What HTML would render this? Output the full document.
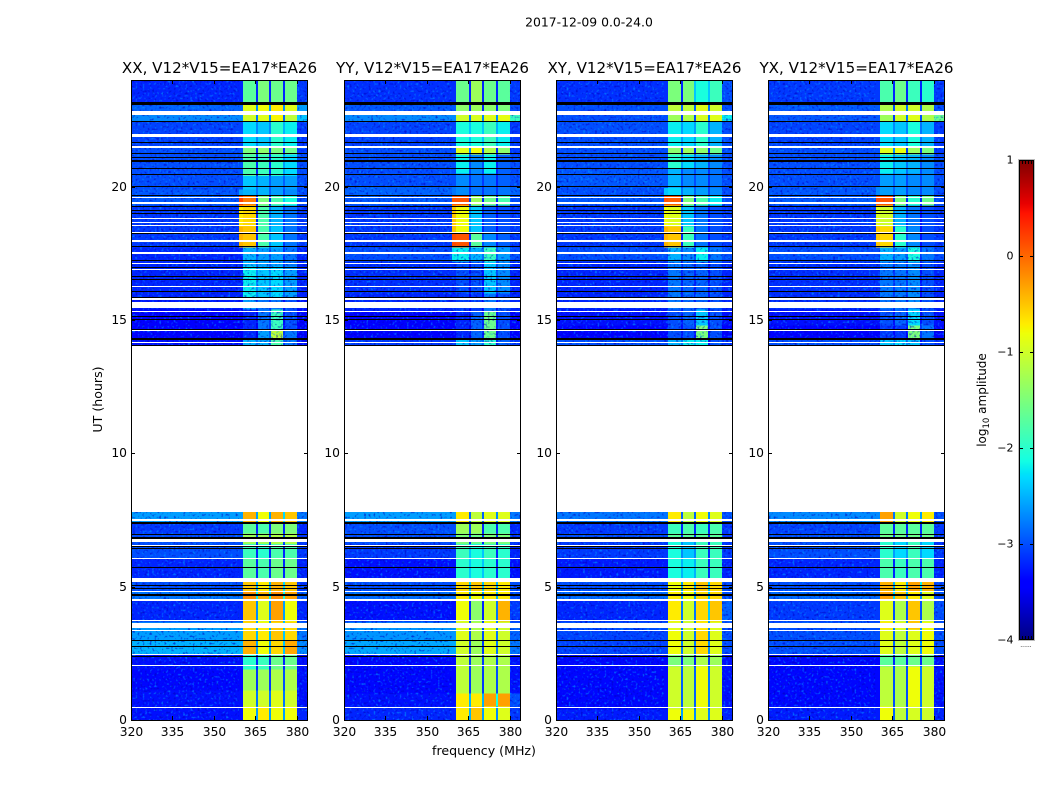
<!DOCTYPE html>
<html lang="en">
<head>
<meta charset="utf-8">
<title>2017-12-09 0.0-24.0</title>
<style>
html,body{margin:0;padding:0;background:#fff;width:1050px;height:800px;overflow:hidden}
svg{display:block}
text{font-family:"DejaVu Sans","Liberation Sans",sans-serif;fill:#000}
</style>
</head>
<body>
<svg id="figure" width="1050" height="800" viewBox="0 0 1050 800" xmlns="http://www.w3.org/2000/svg">
<defs>
<filter id="grainLight" x="0" y="0" width="100%" height="100%" color-interpolation-filters="sRGB">
<feTurbulence type="fractalNoise" baseFrequency="0.42" numOctaves="1" seed="4"/>
<feColorMatrix type="matrix" values="0 0 0 0 0  0 0 0 0 0.6  0 0 0 0 1  5 0 0 0 -2.8"/>
</filter>
<filter id="grainDark" x="0" y="0" width="100%" height="100%" color-interpolation-filters="sRGB">
<feTurbulence type="fractalNoise" baseFrequency="0.42" numOctaves="1" seed="11"/>
<feColorMatrix type="matrix" values="0 0 0 0 0  0 0 0 0 0  0 0 0 0 0.75  5 0 0 0 -2.8"/>
</filter>
</defs>
<text x="589" y="26.5" text-anchor="middle" font-size="12.4">2017-12-09 0.0-24.0</text>
<text x="484" y="755" text-anchor="middle" font-size="12.6">frequency (MHz)</text>
<text transform="translate(102,399.5) rotate(-90)" text-anchor="middle" font-size="12.6">UT (hours)</text>
<text transform="translate(986,400) rotate(-90)" text-anchor="middle" font-size="12">log<tspan font-size="8.5" dy="3">10</tspan><tspan dy="-3"> amplitude</tspan></text>
<g id="panels"></g>
<g id="colorbar"></g>
</svg>
<script>
// ---- chart data (log10 amplitude) ----
var panelTitles = ['XX, V12*V15=EA17*EA26','YY, V12*V15=EA17*EA26','XY, V12*V15=EA17*EA26','YX, V12*V15=EA17*EA26'];
var xTickValues = [320,335,350,365,380];
var yTickValues = [0,5,10,15,20];
var colorbarTicks = [1,0,-1,-2,-3,-4];
// channel edges in MHz: background, early band, sb1, gap, sb2, gap, sb3, gap, sb4, upper edge
var freqEdges = [320,359,360.5,365.2,366,369.9,370.6,375,375.7,380,384];
// each row: [top hour, background, early band, sb1, sb2, sb3, sb4, upper edge]
var xxRows = [
[24,-3.2,null,-1.7,-1.5,-1.6,-1.6,-3.1],[23.18,-2.9,null,-0.9,-0.8,-0.7,-0.9,-2.6],[22.7,-2.7,null,-1.0,-0.9,-0.75,-1.1,-2.4],
[22.46,-3.05,null,-2.3,-2.4,-2.0,-2.2,-3.1],[21.5,-3.0,null,-1.5,-1.4,-1.5,-1.6,-3.1],[21.2,-3.0,null,-1.8,-1.9,-2.0,-2.3,-3.0],
[20.4,-3.0,null,-2.4,-2.5,-2.6,-2.6,-3.0],[19.9,-2.95,-2.6,-2.5,-2.5,-2.6,-2.7,-3.0],[19.65,-2.95,0.2,-0.1,-1.5,-1.8,-2.1,-3.0],
[19.3,-3.1,-0.7,-0.6,-1.8,-2.5,-2.8,-3.1],[18.5,-3.1,-0.4,-0.5,-1.8,-2.4,-2.8,-3.1],[17.72,-3.2,null,-2.5,-2.6,-2.6,-2.8,-3.2],
[17.0,-3.2,null,-2.2,-2.4,-2.3,-2.6,-3.2],[15.8,-3.25,null,-2.6,-2.8,-2.8,-3.0,-3.3],[15.4,-3.4,null,-3.2,-2.8,-1.9,-3.0,-3.4],
[14.6,-3.4,null,-3.2,-2.6,-1.1,-2.8,-3.4],[14.3,-3.3,null,-2.5,-2.5,-1.8,-2.8,-3.3],
[7.8,-2.6,null,-0.4,-0.8,-0.4,-0.5,-2.8],[7.4,-3.1,null,-1.7,-1.8,-1.5,-1.5,-3.2],[7.0,-3.0,null,-1.3,-1.3,-1.2,-1.2,-3.1],
[6.6,-3.0,null,-1.9,-2.0,-1.8,-1.8,-3.1],[6.07,-3.2,null,-1.7,-1.8,-1.6,-1.6,-3.2],[5.2,-3.0,null,-0.5,-0.7,-0.4,-0.5,-3.1],
[4.8,-2.8,null,-0.2,-0.4,-0.2,-0.3,-2.9],[4.5,-3.2,null,-0.5,-0.9,-0.3,-0.8,-3.2],[3.7,-2.75,null,-0.6,-0.8,-0.6,-0.6,-2.9],
[3.45,-2.6,null,-0.6,-0.7,-0.5,-0.6,-2.8],[3.0,-2.5,null,-0.4,-0.8,-0.6,-0.35,-2.7],[2.45,-3.3,null,-2.0,-1.9,-1.6,-1.6,-3.3],
[1.9,-3.35,null,-1.3,-1.3,-1.2,-1.2,-3.3],[1.1,-3.3,null,-1.0,-1.0,-0.9,-1.0,-3.3],[0.5,-3.3,null,-0.8,-0.7,-0.8,-0.8,-3.2]
];
var yyRows = [
[24,-3.15,null,-1.6,-1.3,-1.6,-1.7,-3.1],[23.18,-2.95,null,-1.4,-1.3,-1.4,-1.5,-3.0],[22.7,-2.7,null,-1.0,-0.95,-0.9,-0.85,-1.9],
[22.46,-3.05,null,-2.1,-2.1,-1.9,-2.2,-3.1],[21.5,-3.0,null,-0.9,-0.8,-1.2,-1.4,-3.1],[21.2,-3.0,null,-2.2,-2.7,-2.2,-2.9,-3.0],
[20.5,-3.0,null,-2.7,-2.8,-2.8,-2.9,-3.0],[20.0,-2.9,-2.8,-2.7,-2.8,-2.8,-2.8,-2.9],[19.65,-2.95,0.1,0.1,-1.3,-1.6,-1.8,-3.0],
[19.3,-3.1,-0.5,-0.8,-2.4,-2.9,-3.0,-3.1],[18.3,-3.1,0.15,0.1,-1.7,-2.7,-2.9,-3.1],[17.72,-3.0,-2.2,-2.2,-2.5,-1.9,-2.6,-3.0],
[17.2,-3.15,null,-3.0,-3.0,-2.4,-2.7,-3.2],[16.0,-3.2,null,-3.1,-3.1,-2.8,-3.0,-3.2],[15.3,-3.4,null,-3.2,-2.9,-1.6,-3.0,-3.4],
[14.3,-3.1,null,-2.4,-2.6,-2.0,-2.9,-3.1],
[7.8,-2.6,null,-0.7,-1.1,-0.9,-0.9,-2.8],[7.4,-3.0,null,-1.3,-1.3,-1.8,-1.8,-3.2],[7.0,-3.0,null,-1.5,-1.6,-1.5,-1.5,-3.1],
[6.6,-3.1,null,-1.9,-2.1,-1.9,-2.0,-3.2],[6.07,-3.3,null,-2.0,-2.1,-2.0,-2.0,-3.3],[5.2,-3.0,null,-0.6,-0.5,-0.6,-0.7,-3.0],
[4.8,-2.85,null,-0.7,-0.8,-0.7,-0.7,-3.0],[4.5,-3.3,null,-0.8,-1.4,-1.0,-0.4,-3.1],[3.7,-2.8,null,-1.0,-1.2,-0.8,-1.0,-3.0],
[3.45,-2.65,null,-0.9,-1.2,-0.9,-1.0,-2.9],[3.0,-2.55,null,-1.0,-1.3,-0.9,-1.0,-2.8],[2.45,-3.35,null,-1.1,-1.3,-1.2,-1.2,-3.3],
[1.0,-3.3,null,-0.7,-0.7,-0.3,-0.3,-3.0],[0.5,-3.2,null,-0.7,-0.5,-0.8,-0.9,-3.1]
];
var xyRows = [
[24,-3.15,null,-1.5,-1.5,-2.1,-1.9,-3.0],[23.18,-3.0,null,-1.1,-1.1,-0.9,-1.0,-3.0],[22.7,-3.0,null,-1.3,-1.2,-0.95,-0.9,-2.2],
[22.46,-3.0,null,-2.2,-2.3,-2.0,-2.5,-3.0],[21.5,-3.0,null,-1.4,-1.3,-1.4,-1.6,-3.0],[21.2,-3.0,null,-2.0,-2.3,-2.5,-2.7,-3.0],
[20.7,-2.95,null,-2.5,-2.7,-2.7,-2.8,-3.0],[19.95,-3.0,-2.4,-2.3,-2.5,-2.6,-2.7,-3.0],[19.68,-2.95,0.1,0.05,-1.5,-1.8,-2.2,-3.0],
[19.3,-3.1,-0.8,-0.9,-2.4,-2.8,-3.0,-3.1],[18.5,-3.1,-0.4,-0.5,-1.9,-2.8,-3.0,-3.1],[17.72,-3.0,null,-2.5,-2.7,-2.2,-2.8,-3.0],
[17.2,-3.2,null,-2.8,-2.9,-2.9,-3.0,-3.2],[15.4,-3.3,null,-3.0,-2.9,-2.4,-3.0,-3.3],[14.8,-3.4,null,-3.0,-3.0,-1.5,-3.0,-3.4],
[14.3,-3.0,null,-2.5,-2.2,-2.2,-3.0,-3.1],
[7.8,-2.8,null,-0.7,-1.1,-0.8,-0.9,-3.0],[7.4,-3.1,null,-1.9,-1.8,-1.9,-1.8,-3.1],[7.0,-3.0,null,-1.7,-1.7,-1.7,-1.7,-3.1],
[6.68,-3.1,null,-2.1,-2.4,-1.9,-1.9,-3.1],[6.07,-3.25,null,-2.1,-2.2,-1.9,-1.9,-3.2],[5.2,-3.0,null,-0.8,-0.7,-0.5,-0.6,-3.0],
[4.8,-2.85,null,-0.7,-0.8,-0.6,-0.6,-3.0],[4.5,-3.2,null,-0.7,-1.0,-0.6,-0.5,-2.9],[3.7,-3.0,null,-0.9,-1.0,-0.7,-0.9,-3.0],
[3.4,-3.05,null,-0.8,-1.0,-0.6,-0.9,-3.0],[2.45,-3.35,null,-1.5,-1.5,-1.2,-1.3,-3.3],[2.0,-3.35,null,-1.0,-1.1,-0.8,-1.0,-3.3],
[0.4,-3.25,null,-0.8,-0.8,-0.9,-0.9,-3.2]
];
var yxRows = [
[24,-3.1,null,-1.8,-1.6,-1.9,-2.0,-3.1],[23.18,-2.95,null,-1.2,-1.0,-1.0,-1.2,-3.0],[22.7,-2.95,null,-1.3,-1.0,-0.9,-1.2,-1.6],
[22.46,-3.05,null,-2.3,-2.4,-2.1,-2.5,-3.1],[21.5,-3.0,null,-0.9,-0.85,-1.3,-1.5,-3.1],[21.2,-3.0,null,-2.2,-2.4,-2.5,-2.7,-3.0],
[20.5,-3.0,null,-2.6,-2.6,-2.7,-2.7,-3.0],[20.0,-2.95,-2.7,-2.6,-2.6,-2.7,-2.7,-3.0],[19.68,-2.95,0.15,0.1,-1.5,-2.0,-1.6,-3.0],
[19.3,-3.1,-0.9,-1.0,-2.5,-2.8,-3.0,-3.1],[18.5,-3.1,-0.5,-0.6,-2.0,-2.7,-3.0,-3.1],[17.72,-3.0,null,-2.5,-2.6,-2.1,-2.8,-3.0],
[17.2,-3.15,null,-2.8,-2.8,-2.7,-3.0,-3.2],[15.4,-3.3,null,-3.0,-2.9,-2.3,-3.0,-3.3],[14.8,-3.4,null,-3.1,-3.1,-1.5,-2.8,-3.4],
[14.3,-3.0,null,-2.4,-2.3,-2.4,-3.0,-3.1],
[7.8,-2.7,null,-0.3,-1.0,-0.8,-0.7,-3.0],[7.4,-3.05,null,-1.7,-1.7,-1.7,-1.7,-3.1],[7.0,-3.0,null,-1.6,-1.6,-1.6,-1.6,-3.1],
[6.68,-3.0,null,-2.0,-2.3,-1.9,-2.3,-3.1],[6.07,-3.2,null,-1.8,-1.9,-1.8,-1.8,-3.2],[5.2,-3.0,null,-0.4,-0.7,-0.3,-0.4,-3.0],
[4.8,-2.85,null,-0.3,-0.5,-0.7,-0.9,-3.0],[4.5,-3.1,null,-0.9,-1.2,-0.5,-1.2,-3.0],[3.7,-3.0,null,-0.7,-0.9,-0.5,-0.8,-3.0],
[3.4,-3.0,null,-0.9,-1.1,-0.9,-0.8,-3.0],[2.45,-3.35,null,-1.7,-1.7,-1.6,-1.6,-3.3],[2.0,-3.35,null,-1.1,-1.2,-0.8,-1.0,-3.3],
[0.5,-3.25,null,-0.8,-1.1,-0.95,-1.0,-3.2]
];
// flagged (blank) integrations [start hour, end hour], shared by all correlations
var blankRanges = [[22.85,22.69],[21.99,21.96],[21.92,21.86],[21.53,21.45],[19.63,19.59],[19.44,19.37],[18.83,18.79],[18.68,18.64],[18.56,18.51],[18.3,18.26],[18,17.93],[17.55,17.49],[17.14,17.1],[16.91,16.88],[16.28,16.24],[15.84,15.75],[15.69,15.45],[15.34,15.3],[14.61,14.57],[14.16,14.12],[14.03,7.8],[7.54,7.46],[6.79,6.68],[6.58,6.54],[6.09,6.06],[5.33,5.18],[4.84,4.8],[4.54,4.46],[3.75,3.71],[3.62,3.43],[3.36,3.32],[2.49,2.44],[2.08,2.04],[0.47,0.43]];
// zero-amplitude integrations drawn black
var zeroRanges = [[23.16,23.04],[22.46,22.43],[21.66,21.62],[21.26,21.23],[21.13,21.09],[21,20.92],[20.7,20.66],[20.46,20.42],[20.01,19.97],[19.69,19.65],[19.27,19.24],[19.11,19.07],[19,18.96],[18.26,18.22],[17.76,17.72],[17.25,17.21],[16.99,16.95],[16.65,16.61],[16.54,16.5],[16.07,16.03],[15.88,15.84],[15.32,15.28],[15.15,15.11],[15.04,15],[14.66,14.62],[14.33,14.25],[14.06,14.03],[7.43,7.35],[6.98,6.94],[6.86,6.79],[6.53,6.49],[6.45,6.41],[5.72,5.68],[5.06,5.03],[4.95,4.91],[4.73,4.65],[3,2.96],[2.78,2.74],[2.41,2.36]];

var panelRows = [xxRows,yyRows,xyRows,yxRows];
var panelKeys = ['xx','yy','xy','yx'];

// ---- layout ----
var NS = 'http://www.w3.org/2000/svg';
var panelLefts = [131,344,556,768];
var plotW = 177, plotTop = 80, plotBottom = 720;
var vMin = -4, vMax = 1;
var cbLeft = 1019, cbRight = 1034, cbTop = 160, cbBottom = 640;

function yScale(t){ return plotBottom - t * (plotBottom - plotTop) / 24; }
function xScale(left, f){ return left + (f - 320) * plotW / 64; }
function cbScale(v){ return cbBottom - (v - vMin) * (cbBottom - cbTop) / (vMax - vMin); }
function ramp(x, pts){
  for (var i = 1; i < pts.length; i++) {
    if (x <= pts[i][0]) {
      var a = pts[i-1], b = pts[i];
      return a[1] + (b[1] - a[1]) * (x - a[0]) / (b[0] - a[0]);
    }
  }
  return pts[pts.length-1][1];
}
function jet(v){
  var x = Math.max(0, Math.min(1, (v - vMin) / (vMax - vMin)));
  var r = ramp(x, [[0,0],[0.35,0],[0.66,1],[0.89,1],[1,0.5]]);
  var g = ramp(x, [[0,0],[0.125,0],[0.375,1],[0.64,1],[0.91,0],[1,0]]);
  var b = ramp(x, [[0,0.5],[0.11,1],[0.34,1],[0.65,0],[1,0]]);
  return 'rgb(' + Math.round(r*255) + ',' + Math.round(g*255) + ',' + Math.round(b*255) + ')';
}
function make(tag, parent, attrs){
  var el = document.createElementNS(NS, tag);
  for (var k in attrs) el.setAttribute(k, attrs[k]);
  parent.appendChild(el);
  return el;
}
// column values for one row: 10 channels between freqEdges
function rowColumns(r){
  var gap = function(a, b){
    var m = Math.min(a, b);
    return m < -2 ? m - 0.3 : Math.max(m - 1.8, -3.2);
  };
  return [r[1], r[2] === null ? r[1] : r[2], r[3], gap(r[3], r[4]), r[4], gap(r[4], r[5]), r[5], gap(r[5], r[6]), r[6], r[7]];
}
function bandRect(parent, left, t0, t1, fill){
  var y0 = Math.round(yScale(t0));
  var h = Math.max(1, Math.round(yScale(t1) - yScale(t0)));
  return make('rect', parent, {x: left, y: y0, width: plotW, height: h, fill: fill, 'shape-rendering': 'crispEdges'});
}

var panelsGroup = document.getElementById('panels');
var svgDefs = document.querySelector('defs');
panelRows.forEach(function(rows, p){
  var left = panelLefts[p], key = panelKeys[p];
  var g = make('g', panelsGroup, {});
  
  

  var heat = make('g', g, {'shape-rendering': 'crispEdges'});
  
  
  rows.forEach(function(r, i){
    var tTop = r[0];
    var tBot = i + 1 < rows.length ? rows[i+1][0] : 0;
    var cols = rowColumns(r);
    cols.forEach(function(v, c){
      var x0 = xScale(left, freqEdges[c]), x1 = xScale(left, freqEdges[c+1]);
      var cell = make('rect', heat, {x: x0, y: yScale(tTop), width: x1 - x0, height: yScale(tBot) - yScale(tTop), fill: jet(v)});
      
      
    });
  });

  // speckle only over the noise-dominated regions (not the bright sub-bands)
  var clip = make('clipPath', svgDefs, {id: 'noise-clip-' + key});
  make('rect', clip, {x: left, y: plotTop, width: xScale(left, freqEdges[1]) - left, height: plotBottom - plotTop});
  make('rect', clip, {x: xScale(left, freqEdges[9]), y: plotTop, width: left + plotW - xScale(left, freqEdges[9]), height: plotBottom - plotTop});
  make('rect', clip, {x: left, y: yScale(17.7), width: plotW, height: yScale(14) - yScale(17.7)});
  var noise = make('g', g, {'clip-path': 'url(#noise-clip-' + key + ')'});
  
  
  var grainL = make('rect', noise, {x: left, y: plotTop, width: plotW, height: plotBottom - plotTop, filter: 'url(#grainLight)', opacity: 0.6});
  
  
  var grainD = make('rect', noise, {x: left, y: plotTop, width: plotW, height: plotBottom - plotTop, filter: 'url(#grainDark)', opacity: 0.6});
  
  

  zeroRanges.forEach(function(z){
    var line = bandRect(g, left, z[0], z[1], '#000');
    
    
  });
  blankRanges.forEach(function(z){
    var line = bandRect(g, left, z[0], z[1], '#fff');
    
    
  });

  var frame = make('rect', g, {x: left + 0.5, y: plotTop + 0.5, width: plotW - 1, height: plotBottom - plotTop, fill: 'none', stroke: '#000', 'stroke-width': 1, 'shape-rendering': 'crispEdges'});
  
  

  var title = make('text', g, {x: left + plotW / 2, y: 73, 'text-anchor': 'middle', 'font-size': 15.1});
  title.textContent = panelTitles[p];
  
  

  xTickValues.forEach(function(f){
    var x = Math.round(xScale(left, f)) + 0.5;
    var t1 = make('line', g, {x1: x, x2: x, y1: plotBottom, y2: plotBottom - 4, stroke: '#000', 'shape-rendering': 'crispEdges'});
    
    
    var t2 = make('line', g, {x1: x, x2: x, y1: plotTop, y2: plotTop + 4, stroke: '#000', 'shape-rendering': 'crispEdges'});
    
    
    var lab = make('text', g, {x: x, y: 736, 'text-anchor': 'middle', 'font-size': 12.3});
    lab.textContent = f;
    
    
  });
  yTickValues.forEach(function(t){
    var y = Math.round(yScale(t)) + 0.5;
    var t1 = make('line', g, {x1: left, x2: left + 4, y1: y, y2: y, stroke: '#000', 'shape-rendering': 'crispEdges'});
    
    
    var t2 = make('line', g, {x1: left + plotW, x2: left + plotW - 4, y1: y, y2: y, stroke: '#000', 'shape-rendering': 'crispEdges'});
    
    
    var lab = make('text', g, {x: left - 4, y: y + 3.4, 'text-anchor': 'end', 'font-size': 12.3});
    lab.textContent = t;
    
    
  });
});

// ---- colorbar ----
var cb = document.getElementById('colorbar');
var cbSteps = 240;
for (var s = 0; s < cbSteps; s++) {
  var v0 = vMin + (vMax - vMin) * s / cbSteps;
  var v1 = vMin + (vMax - vMin) * (s + 1) / cbSteps;
  var seg = make('rect', cb, {x: cbLeft, y: cbScale(v1), width: cbRight - cbLeft, height: cbScale(v0) - cbScale(v1) + 0.5, fill: jet((v0 + v1) / 2), 'shape-rendering': 'crispEdges'});
  
  
}
var cbHalo = make('rect', cb, {x: cbLeft - 0.5, y: cbTop - 0.5, width: cbRight - cbLeft + 1, height: cbBottom - cbTop + 1, fill: 'none', stroke: '#bbb', 'shape-rendering': 'crispEdges'});


var cbFrame = make('rect', cb, {x: cbLeft + 0.5, y: cbTop + 0.5, width: cbRight - cbLeft - 1, height: cbBottom - cbTop - 1, fill: 'none', stroke: '#000', 'shape-rendering': 'crispEdges'});


colorbarTicks.forEach(function(v){
  var y = Math.min(Math.round(cbScale(v)), cbBottom - 1) + 0.5;
  var t1 = make('line', cb, {x1: cbLeft, x2: cbLeft + 4, y1: y, y2: y, stroke: '#000', 'shape-rendering': 'crispEdges'});
  
  
  var t2 = make('line', cb, {x1: cbRight, x2: cbRight - 4, y1: y, y2: y, stroke: '#000', 'shape-rendering': 'crispEdges'});
  
  
  var lab = make('text', cb, {x: 1013.5, y: Math.round(cbScale(v)) + 3.5, 'text-anchor': 'end', 'font-size': 11});
  lab.textContent = v < 0 ? '\u2212' + Math.abs(v) : String(v);
  
  
});
var stubPositions = [0.2,0.4,0.6,0.8];
stubPositions.forEach(function(fr){
  var x = Math.round(cbLeft + fr * (cbRight - cbLeft)) + 0.5;
  var a = make('line', cb, {x1: x, x2: x, y1: cbTop, y2: cbTop + 4, stroke: '#000', 'shape-rendering': 'crispEdges'});
  
  
  var b = make('line', cb, {x1: x, x2: x, y1: cbBottom, y2: cbBottom - 4, stroke: '#000', 'shape-rendering': 'crispEdges'});
  
  
});
var dots = make('text', cb, {x: 1026, y: 647, 'text-anchor': 'middle', 'font-size': 6, fill: '#888'});
dots.textContent = '......';


</script>
</body>
</html>
